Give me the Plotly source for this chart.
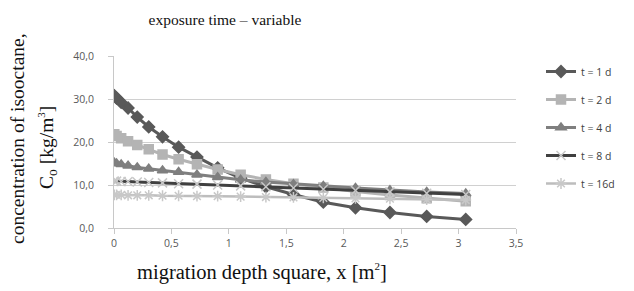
import plotly.graph_objects as go

x_sq = [0.0025, 0.0225, 0.0625, 0.1225, 0.2025, 0.3025, 0.4225, 0.5625, 0.7225,
        0.9025, 1.1025, 1.3225, 1.5625, 1.8225, 2.1025, 2.4025, 2.7225, 3.0625]

t1 = [30.8, 30.2, 29.2, 27.9, 25.8, 23.5, 21.2, 18.8, 16.5, 14.0, 11.6, 9.6, 7.8, 6.0, 4.7, 3.6, 2.7, 2.0]
t2 = [21.8, 21.4, 20.9, 20.2, 19.3, 18.3, 17.1, 16.0, 14.8, 13.6, 12.4, 11.3, 10.3, 9.4, 8.5, 7.7, 6.9, 6.2]
t4 = [15.2, 15.0, 14.8, 14.5, 14.1, 13.8, 13.4, 13.0, 12.4, 11.8, 11.2, 10.7, 10.2, 9.8, 9.3, 8.8, 8.4, 8.0]
t8 = [10.9, 10.9, 10.8, 10.8, 10.7, 10.6, 10.5, 10.3, 10.2, 10.0, 9.8, 9.6, 9.3, 9.0, 8.7, 8.4, 8.1, 7.8]
t16 = [7.7, 7.7, 7.7, 7.6, 7.6, 7.6, 7.5, 7.5, 7.4, 7.4, 7.3, 7.2, 7.1, 7.0, 6.9, 6.8, 6.6, 6.5]

names = ["t = 1 d", "t = 2 d", "t = 4 d", "t = 8 d", "t = 16d"]
series = [t1, t2, t4, t8, t16]
line_colors = ["#595959", "#b4b4b4", "#7f7f7f", "#404040", "#bdbdbd"]
marker_colors = ["#595959", "#b4b4b4", "#7f7f7f", "#c8c8c8", "#c8c8c8"]
symbols = ["diamond", "square", "triangle-up", "x-thin-open", "asterisk-open"]
sizes = [9, 9, 9, 9, 9]
widths = [3, 3, 3, 3, 2.5]

# page body has an 8px default margin: lay out in page pixels, offset by 8
OFF = 8
W, H = 634 - OFF, 291 - OFF
L, R, T, B = 114, 516, 56, 228  # plot area edges in page pixels
pw, ph = R - L, B - T


def px(xp):
    return (xp - L) / pw


def py(yp):
    return (B - yp) / ph


fig = go.Figure()
for i, (n, s) in enumerate(zip(names, series)):
    fig.add_trace(go.Scatter(
        x=x_sq, y=s, name=n, mode="lines+markers", legendgroup=n,
        line=dict(color=line_colors[i], width=widths[i]),
        marker=dict(symbol=symbols[i], size=sizes[i], color=marker_colors[i],
                    line=dict(color=marker_colors[i], width=1.5)),
    ))

serif = "Liberation Serif"
small = '<span style="font-size:11px">'
fig.add_annotation(text=f"migration depth square, x [m<sup>{small}2</span></sup>]", xref="paper", yref="paper",
                   x=px(262), y=py(272), xanchor="center", yanchor="middle",
                   showarrow=False, font=dict(family=serif, size=20.5, color="#111111"))
fig.add_annotation(text="concentration of isooctane,", xref="paper", yref="paper",
                   x=px(17), y=py(139), xanchor="center", yanchor="middle",
                   textangle=-90, showarrow=False, font=dict(family=serif, size=19.5, color="#111111"))
fig.add_annotation(text=f"C<sub>o</sub> [kg/m<sup>{small}3</span></sup>]", xref="paper", yref="paper",
                   x=px(47), y=py(148), xanchor="center", yanchor="middle",
                   textangle=-90, showarrow=False, font=dict(family=serif, size=19.5, color="#111111"))

fig.update_layout(
    width=W, height=H,
    margin=dict(l=L - OFF, r=W - (R - OFF), t=T - OFF, b=H - (B - OFF), autoexpand=False),
    plot_bgcolor="white", paper_bgcolor="white",
    separators=", ",
    showlegend=True,
    title=dict(text="exposure time – variable", x=(225 - OFF) / W, xanchor="center",
               y=1 - (20 - OFF) / H, yanchor="middle",
               font=dict(family=serif, size=15.5, color="#111111")),
    legend=dict(x=px(541), y=py(57), xanchor="left", yanchor="top",
                font=dict(family="Open Sans", size=10.5, color="#404040"),
                tracegroupgap=9, bgcolor="rgba(0,0,0,0)"),
    xaxis=dict(range=[0, 3.5], dtick=0.5, showgrid=False, zeroline=False, automargin=False,
               showline=True, linecolor="#c8c8c8", linewidth=1,
               ticks="outside", ticklen=5, tickcolor="#c8c8c8",
               tickfont=dict(family="Open Sans", size=10.5, color="#595959")),
    yaxis=dict(range=[0, 40], dtick=10, tickformat=".1f", showgrid=True, gridcolor="#d0d0d0",
               zeroline=False, showline=True, linecolor="#c8c8c8", linewidth=1, automargin=False,
               ticks="outside", ticklen=5, tickcolor="#c8c8c8", ticklabelstandoff=12,
               tickfont=dict(family="Open Sans", size=10.5, color="#595959")),
)

fig.write_html("out.html")
